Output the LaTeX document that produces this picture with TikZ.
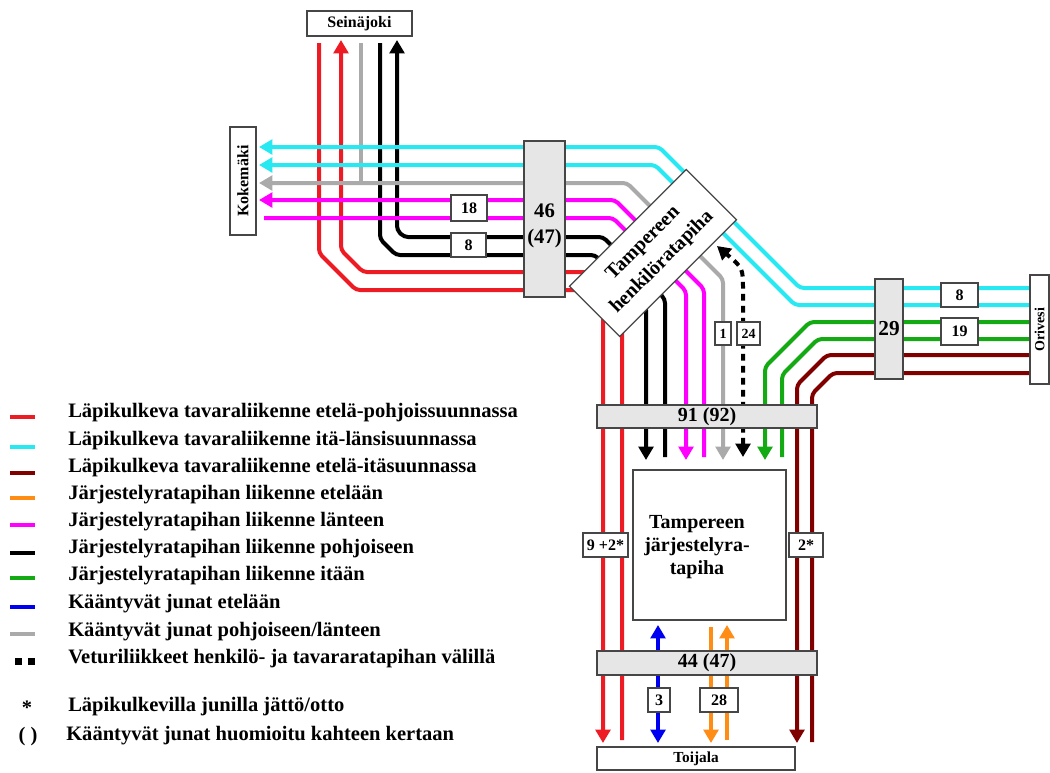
\documentclass[tikz,border=0pt]{standalone}
\usepackage{fontspec}
\setmainfont{Liberation Serif}
\usetikzlibrary{arrows.meta}
\definecolor{cRed}{RGB}{237,28,36}
\definecolor{cCyan}{RGB}{40,232,242}
\definecolor{cBrown}{RGB}{128,0,0}
\definecolor{cOrange}{RGB}{255,140,20}
\definecolor{cMag}{RGB}{255,0,255}
\definecolor{cGreen}{RGB}{20,170,20}
\definecolor{cBlue}{RGB}{0,0,240}
\definecolor{cGray}{RGB}{170,170,170}
\definecolor{cBox}{RGB}{230,230,230}
\definecolor{cEdge}{RGB}{70,70,70}
\begin{document}
\begin{tikzpicture}[x=0.75pt,y=-0.75pt,
  >={Triangle[width=11pt,length=10pt]},
  track/.style={line width=3pt, rounded corners=3pt},
  dashtrack/.style={line width=3pt, dash pattern=on 5pt off 4pt},
  sz/.style 2 args={minimum width=#1*0.75pt, minimum height=#2*0.75pt, inner sep=0pt, outer sep=0pt},
  graybox/.style={draw=cEdge, fill=cBox, line width=0.9pt},
  whitebox/.style={draw=cEdge, fill=white, line width=0.9pt},
  lbl/.style={font=\bfseries\fontsize{12pt}{14pt}\selectfont},
  big/.style={font=\bfseries\fontsize{15pt}{18pt}\selectfont},
  legtext/.style={anchor=west, inner sep=0pt, font=\bfseries\fontsize{15.4pt}{18pt}\selectfont},
  legbar/.style={line width=3.5pt}
]
\useasboundingbox (0,0) rectangle (1050,772);

% ---------- vertical-origin tracks (drawn first) ----------
\draw[track,cRed,->] (319,43) -- (319,253) -- (356,290) -- (590,290) -- (603,303) -- (603,743);
\draw[track,cRed,->] (622,740) -- (622,300) -- (594,272) -- (363,272) -- (341,250) -- (341,40);
\draw[track,black,->] (380,43) -- (380,239) -- (396,255) -- (595,255) -- (646,306) -- (646,460);
\draw[track,black,->] (665,457) -- (665,299) -- (603,237) -- (404,237) -- (397,230) -- (397,40);
\draw[track,cGray] (361,43) -- (361,183);

% ---------- horizontal-origin tracks ----------
\draw[track,cGray,<->] (259,183) -- (627,183) -- (723,279) -- (723,460);
\draw[track,cMag,->] (704,457) -- (704,289) -- (615,200) -- (259,200);
\draw[track,cMag,->] (264,218) -- (613,218) -- (686,291) -- (686,460);
\draw[track,cCyan,->] (1031,288) -- (800,288) -- (659,147) -- (259,147);
\draw[track,cCyan,->] (1031,305) -- (795,305) -- (655,165) -- (259,165);

\draw[track,cGreen,->] (1031,322) -- (810,322) -- (765,367) -- (765,460);
\draw[track,cGreen] (1031,339) -- (818,339) -- (782,375) -- (782,457);
\draw[track,cBrown,->] (1031,355) -- (827,355) -- (797,385) -- (797,743);
\draw[track,cBrown] (1031,373) -- (833,373) -- (812,394) -- (812,742);

\draw[dashtrack,black,<->] (743,457) -- (743,290) .. controls (743,268) .. (717,246);

\draw[track,cBlue,<->] (658,625) -- (658,743);
\draw[track,cOrange,->] (711,627) -- (711,743);
\draw[track,cOrange,->] (727,740) -- (727,625);

% ---------- boxes ----------
\node[whitebox, sz={105}{25}, font=\bfseries\fontsize{12pt}{14pt}\selectfont] (sein) at (359.5,23.5) {Seinäjoki};
\node[whitebox, sz={108}{26}, rotate=90, font=\bfseries\fontsize{12pt}{14pt}\selectfont] (koke) at (243,181) {Kokemäki};
\node[graybox, sz={41}{156}] (b46) at (544.5,219) {};
\node[align=center, inner sep=0pt, font=\bfseries\fontsize{15.5pt}{19pt}\selectfont] (b46t) at (544.5,226) {46\\(47)};
\node[whitebox, sz={36}{26}, lbl] (b18) at (469,208) {18};
\node[whitebox, sz={35}{24}, lbl] (b8l) at (468.5,245) {8};
\node[whitebox, sz={165}{71}, rotate=45, align=center, font=\bfseries\fontsize{15pt}{20pt}\selectfont] (henk) at (653,253) {Tampereen\\henkilöratapiha};
\node[graybox, sz={28}{100}, font=\bfseries\fontsize{16pt}{18pt}\selectfont] (b29) at (889,329) {29};
\node[whitebox, sz={37}{24}, lbl] (b8r) at (959.5,295) {8};
\node[whitebox, sz={37}{27}, lbl] (b19) at (959.5,331.5) {19};
\node[whitebox, sz={109}{19}, rotate=90, font=\bfseries\fontsize{10.5pt}{12pt}\selectfont] (oriv) at (1039.5,329.5) {Orivesi};
\node[whitebox, sz={16}{23}, font=\bfseries\fontsize{10.5pt}{12pt}\selectfont] (b1) at (723,333.5) {1};
\node[whitebox, sz={23}{23}, font=\bfseries\fontsize{10.5pt}{12pt}\selectfont] (b24) at (748.5,333.5) {24};
\node[graybox, sz={220}{23}, big] (b91) at (707,416.5) {91 (92)};
\node[whitebox, sz={153}{150}] (jarj) at (709.5,545) {};
\node[align=center, font=\bfseries\fontsize{15pt}{17.5pt}\selectfont, inner sep=0pt] (jarjt) at (697,547) {Tampereen\\järjestelyra-\\tapiha};
\node[whitebox, sz={45}{24}, lbl] (b9) at (605.5,545) {9 +2*};
\node[whitebox, sz={34}{24}, lbl] (b2s) at (806,545) {2*};
\node[graybox, sz={220}{24}, big] (b44) at (707,663) {44 (47)};
\node[whitebox, sz={22}{24}, lbl] (b3) at (659,700) {3};
\node[whitebox, sz={38}{24}, lbl] (b28) at (719,700) {28};
\node[whitebox, sz={198}{23}, font=\bfseries\fontsize{11.5pt}{13pt}\selectfont] (toij) at (696,758.5) {Toijala};

% ---------- legend ----------
\draw[legbar,cRed] (10,417) -- (35,417);
\draw[legbar,cCyan] (10,447) -- (35,447);
\draw[legbar,cBrown] (10,473) -- (35,473);
\draw[legbar,cOrange] (10,498) -- (35,498);
\draw[legbar,cMag] (10,525) -- (35,525);
\draw[legbar,black] (10,553) -- (35,553);
\draw[legbar,cGreen] (10,578) -- (35,578);
\draw[legbar,cBlue] (10,607) -- (35,607);
\draw[legbar,cGray] (10,634) -- (35,634);
\fill[black] (15,658) rectangle (22,665);
\fill[black] (28,658) rectangle (35,665);

\node[legtext] (l1) at (68,413) {Läpikulkeva tavaraliikenne etelä-pohjoissuunnassa};
\node[legtext] (l2) at (68,441) {Läpikulkeva tavaraliikenne itä-länsisuunnassa};
\node[legtext] (l3) at (68,468) {Läpikulkeva tavaraliikenne etelä-itäsuunnassa};
\node[legtext] (l4) at (68,495) {Järjestelyratapihan liikenne etelään};
\node[legtext] (l5) at (68,522) {Järjestelyratapihan liikenne länteen};
\node[legtext] (l6) at (68,549) {Järjestelyratapihan liikenne pohjoiseen};
\node[legtext] (l7) at (68,576) {Järjestelyratapihan liikenne itään};
\node[legtext] (l8) at (68,604) {Kääntyvät junat etelään};
\node[legtext] (l9) at (68,632) {Kääntyvät junat pohjoiseen/länteen};
\node[legtext] (l10) at (68,659) {Veturiliikkeet henkilö- ja tavararatapihan välillä};
\node[legtext] (l11) at (68,707) {Läpikulkevilla junilla jättö/otto};
\node[legtext] (l12) at (66,736) {Kääntyvät junat huomioitu kahteen kertaan};
\node[legtext, anchor=center] (s1) at (27,708) {*};
\node[legtext, anchor=center] (s2) at (28,737) {( )};
\end{tikzpicture}
\end{document}
